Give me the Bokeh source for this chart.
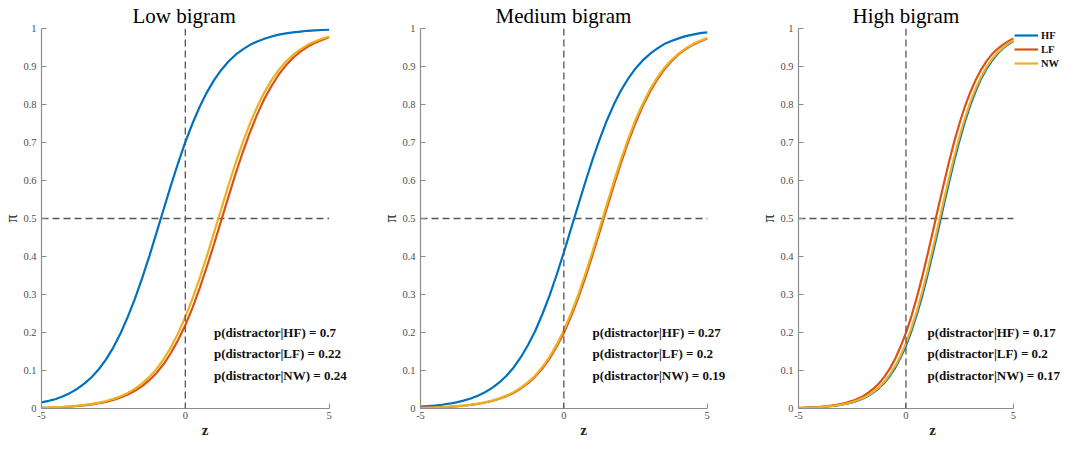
from bokeh.plotting import figure
from bokeh.layouts import row
from bokeh.models import Range1d, FixedTicker, Span, Label, Legend, LegendItem
from bokeh.embed import file_html
from bokeh.resources import INLINE

# ---------------- data ----------------
z = [-5.0, -4.75, -4.5, -4.25, -4.0, -3.75, -3.5, -3.25, -3.0, -2.75, -2.5,
     -2.25, -2.0, -1.75, -1.5, -1.25, -1.0, -0.75, -0.5, -0.25, 0.0,
     0.25, 0.5, 0.75, 1.0, 1.25, 1.5, 1.75, 2.0, 2.25, 2.5,
     2.75, 3.0, 3.25, 3.5, 3.75, 4.0, 4.25, 4.5, 4.75, 5.0]

categories = ["HF", "LF", "NW"]
panel_titles = ["Low bigram", "Medium bigram", "High bigram"]

low_HF = [0.016, 0.020, 0.025, 0.032, 0.041, 0.052, 0.066, 0.083, 0.104, 0.130, 0.161,
          0.198, 0.241, 0.289, 0.343, 0.401, 0.463, 0.525, 0.587, 0.646, 0.701,
          0.750, 0.794, 0.832, 0.864, 0.891, 0.913, 0.931, 0.945, 0.957, 0.966,
          0.973, 0.979, 0.984, 0.987, 0.990, 0.992, 0.994, 0.995, 0.996, 0.997]
low_LF = [0.0019, 0.0024, 0.0031, 0.0040, 0.0051, 0.0066, 0.0084, 0.0108, 0.0138, 0.0176, 0.0225,
          0.0288, 0.0366, 0.0465, 0.0590, 0.0745, 0.0936, 0.117, 0.146, 0.180, 0.219,
          0.265, 0.317, 0.373, 0.433, 0.495, 0.557, 0.618, 0.675, 0.727, 0.774,
          0.815, 0.849, 0.879, 0.903, 0.923, 0.939, 0.952, 0.962, 0.970, 0.977]
low_NW = [0.0021, 0.0027, 0.0035, 0.0045, 0.0058, 0.0074, 0.0095, 0.0121, 0.0155, 0.0198, 0.0253,
          0.0323, 0.0411, 0.0522, 0.0660, 0.0832, 0.104, 0.130, 0.161, 0.198, 0.241,
          0.289, 0.343, 0.401, 0.463, 0.525, 0.587, 0.646, 0.701, 0.750, 0.794,
          0.832, 0.864, 0.891, 0.913, 0.931, 0.945, 0.957, 0.966, 0.973, 0.979]

med_HF = [0.0047, 0.0060, 0.0077, 0.0099, 0.0126, 0.0161, 0.0206, 0.0263, 0.0336, 0.0427, 0.0542,
          0.0685, 0.0863, 0.108, 0.135, 0.167, 0.204, 0.248, 0.297, 0.352, 0.411,
          0.473, 0.535, 0.596, 0.655, 0.709, 0.758, 0.801, 0.838, 0.869, 0.895,
          0.916, 0.933, 0.947, 0.959, 0.967, 0.974, 0.980, 0.984, 0.988, 0.990]
med_LF = [0.0017, 0.0022, 0.0028, 0.0035, 0.0045, 0.0058, 0.0075, 0.0096, 0.0123, 0.0157, 0.0200,
          0.0256, 0.0326, 0.0415, 0.0527, 0.0666, 0.0840, 0.105, 0.131, 0.163, 0.199,
          0.242, 0.291, 0.345, 0.404, 0.465, 0.528, 0.589, 0.648, 0.703, 0.752,
          0.796, 0.833, 0.865, 0.892, 0.914, 0.932, 0.946, 0.957, 0.966, 0.974]
med_NW = [0.0017, 0.0022, 0.0029, 0.0037, 0.0047, 0.0061, 0.0078, 0.0100, 0.0127, 0.0163, 0.0208,
          0.0266, 0.0339, 0.0431, 0.0547, 0.0691, 0.0870, 0.109, 0.136, 0.168, 0.206,
          0.250, 0.299, 0.354, 0.413, 0.475, 0.537, 0.599, 0.657, 0.711, 0.760,
          0.802, 0.839, 0.870, 0.896, 0.917, 0.934, 0.948, 0.959, 0.968, 0.975]

high_HF = [0.0013, 0.0017, 0.0022, 0.0028, 0.0036, 0.0046, 0.0059, 0.0076, 0.0098, 0.0125, 0.0160,
           0.0204, 0.0261, 0.0332, 0.0423, 0.0537, 0.0678, 0.0855, 0.107, 0.134, 0.165,
           0.203, 0.246, 0.295, 0.350, 0.409, 0.470, 0.533, 0.594, 0.653, 0.707,
           0.756, 0.799, 0.836, 0.868, 0.894, 0.915, 0.933, 0.947, 0.958, 0.967]
high_LF = [0.0017, 0.0022, 0.0028, 0.0035, 0.0045, 0.0058, 0.0075, 0.0096, 0.0123, 0.0157, 0.0200,
           0.0256, 0.0326, 0.0415, 0.0527, 0.0666, 0.0840, 0.105, 0.131, 0.163, 0.199,
           0.242, 0.291, 0.345, 0.404, 0.465, 0.528, 0.589, 0.648, 0.703, 0.752,
           0.796, 0.833, 0.865, 0.892, 0.914, 0.932, 0.946, 0.957, 0.966, 0.974]
high_NW = [0.0014, 0.0018, 0.0023, 0.0030, 0.0038, 0.0049, 0.0062, 0.0080, 0.0103, 0.0131, 0.0168,
           0.0215, 0.0274, 0.0349, 0.0444, 0.0562, 0.0711, 0.0895, 0.112, 0.139, 0.172,
           0.211, 0.255, 0.306, 0.361, 0.421, 0.483, 0.545, 0.606, 0.664, 0.717,
           0.765, 0.807, 0.843, 0.873, 0.899, 0.919, 0.936, 0.949, 0.960, 0.969]

p_low = [0.7, 0.22, 0.24]
p_med = [0.27, 0.2, 0.19]
p_high = [0.17, 0.2, 0.17]

x_ticks = [-5, 0, 5]
x_tick_labels = ["-5", "0", "5"]
y_ticks = [0, 0.1, 0.2, 0.3, 0.4, 0.5, 0.6, 0.7, 0.8, 0.9, 1]
y_tick_labels = ["0", "0.1", "0.2", "0.3", "0.4", "0.5", "0.6", "0.7", "0.8", "0.9", "1"]

# ---------------- styling ----------------
SERIF = "Liberation Serif"
COLORS = {"HF": "#0072BD", "LF": "#D95319", "NW": "#EDB120"}
AXIS_COLOR = "#8c8c8c"
LABEL_COLOR = "#4d4d4d"
DASH_COLOR = "#555555"
H = 440


def make_panel(title, series, pvals, width, left, x_end, title_offset, legend=False):
    p = figure(width=width, height=H, x_range=Range1d(-5, x_end), y_range=Range1d(0, 1),
               output_backend="svg", toolbar_location=None,
               min_border_left=left, min_border_right=2,
               min_border_top=0, min_border_bottom=0)
    p.title.text = title
    p.title.text_font = SERIF
    p.title.text_font_size = "21px"
    p.title.text_font_style = "normal"
    p.title.text_color = "#000000"
    p.title.align = "left"
    p.title.offset = title_offset
    p.title.standoff = 2
    p.outline_line_color = None
    p.grid.visible = False

    for ax in (p.xaxis, p.yaxis):
        ax.axis_line_color = AXIS_COLOR
        ax.axis_line_width = 1.2
        ax.major_tick_line_color = AXIS_COLOR
        ax.major_tick_in = 5
        ax.major_tick_out = 0
        ax.minor_tick_line_color = None
        ax.major_label_text_font = SERIF
        ax.major_label_text_font_size = "10.5px"
        ax.major_label_text_color = LABEL_COLOR
        ax.axis_label_text_font = SERIF
        ax.axis_label_text_color = "#222222"

    p.xaxis.bounds = (-5, 5)
    p.xaxis.ticker = FixedTicker(ticks=x_ticks)
    p.xaxis.major_label_overrides = dict(zip(x_ticks, x_tick_labels))
    p.yaxis.ticker = FixedTicker(ticks=y_ticks)
    p.yaxis.major_label_overrides = dict(zip(y_ticks, y_tick_labels))
    p.xaxis.axis_label = "z"
    p.xaxis.axis_label_text_font_size = "15px"
    p.xaxis.axis_label_text_font_style = "bold"
    p.yaxis.axis_label = "π"
    p.yaxis.axis_label_text_font_size = "16px"
    p.yaxis.axis_label_text_font_style = "normal"
    p.yaxis.major_label_standoff = 5
    p.yaxis.axis_label_standoff = 0
    p.xaxis.major_label_standoff = 3
    p.xaxis.axis_label_standoff = 0

    p.segment(x0=[-5], y0=[0.5], x1=[5], y1=[0.5], line_color=DASH_COLOR,
              line_width=1.3, line_dash="7 4")
    p.add_layout(Span(location=0, dimension="height", line_color=DASH_COLOR,
                      line_width=1.3, line_dash="7 4"))

    renderers = {}
    for cat in categories:
        renderers[cat] = p.line(z, series[cat], line_color=COLORS[cat], line_width=2.2)

    for i, (cat, v) in enumerate(zip(categories, pvals)):
        p.add_layout(Label(x=1.0, y=[0.2, 0.144, 0.088][i],
                           text=f"p(distractor|{cat}) = {v}",
                           text_font=SERIF, text_font_size="13px",
                           text_font_style="bold", text_color="#111111",
                           text_baseline="middle", text_align="left"))

    if legend:
        items = [LegendItem(label=c, renderers=[renderers[c]]) for c in categories]
        lg = Legend(items=items, location=(216, 338), orientation="vertical",
                    glyph_width=24, glyph_height=14, label_height=14, spacing=0,
                    padding=0, margin=0, label_standoff=3,
                    label_text_font=SERIF, label_text_font_size="10.5px",
                    label_text_font_style="bold", label_text_color="#111111",
                    border_line_alpha=0, background_fill_alpha=0)
        p.add_layout(lg, "center")
    return p


p1 = make_panel(panel_titles[0], {"HF": low_HF, "LF": low_LF, "NW": low_NW},
                p_low, 370, 35, 6.37, 91)
p2 = make_panel(panel_titles[1], {"HF": med_HF, "LF": med_LF, "NW": med_NW},
                p_med, 378, 50, 6.37, 75)
p3 = make_panel(panel_titles[2], {"HF": high_HF, "LF": high_LF, "NW": high_NW},
                p_high, 320, 50, 7.47, 54, legend=True)

layout = row(p1, p2, p3)
open("out.html", "w").write(file_html(layout, INLINE))
